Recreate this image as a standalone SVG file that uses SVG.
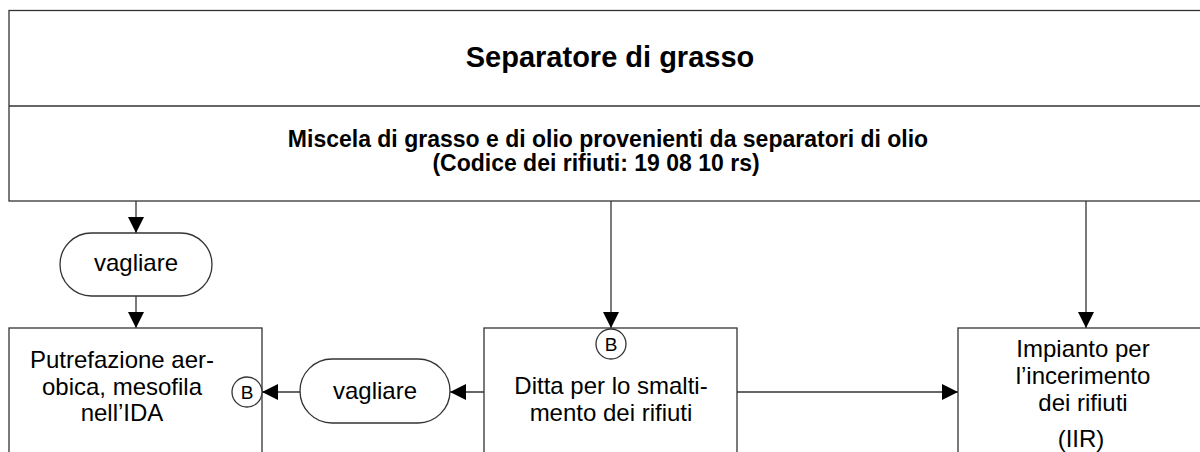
<svg xmlns="http://www.w3.org/2000/svg" width="1200" height="452" viewBox="0 0 1200 452">
<defs>
<style>
.box{fill:#fff;stroke:#333;stroke-width:1.3}
.ln{fill:none;stroke:#333;stroke-width:1.3}
.t{font-family:"Liberation Sans",Arial,sans-serif;font-size:24px;fill:#000;text-anchor:middle}
.h{font-family:"Liberation Sans",Arial,sans-serif;font-weight:bold;fill:#000;text-anchor:middle}
.c{font-family:"Liberation Sans",Arial,sans-serif;font-size:19px;fill:#000;text-anchor:middle}
</style>
<marker id="arr" markerUnits="userSpaceOnUse" markerWidth="17" markerHeight="16" refX="16" refY="8" orient="auto">
<path d="M0,0 L16,8 L0,16 Z" fill="#000"/>
</marker>
</defs>
<rect width="1200" height="452" fill="#fff"/>
<g id="header">
<rect class="box" x="9" y="10.5" width="1200" height="190.5"/>
<line class="ln" x1="9" y1="106" x2="1200" y2="106"/>
<text class="h" x="610" y="67" font-size="29">Separatore di grasso</text>
<text class="h" x="608" y="147" font-size="23">Miscela di grasso e di olio provenienti da separatori di olio</text>
<text class="h" x="596" y="171" font-size="23">(Codice dei rifiuti: 19 08 10 rs)</text>
</g>
<g id="connectors">
<line class="ln" x1="136" y1="201" x2="136" y2="233" marker-end="url(#arr)"/>
<line class="ln" x1="136" y1="296" x2="136" y2="328" marker-end="url(#arr)"/>
<line class="ln" x1="611" y1="201" x2="611" y2="328" marker-end="url(#arr)"/>
<line class="ln" x1="1086" y1="201" x2="1086" y2="328" marker-end="url(#arr)"/>
<line class="ln" x1="484" y1="392" x2="450" y2="392" marker-end="url(#arr)"/>
<line class="ln" x1="300" y1="392" x2="262" y2="392" marker-end="url(#arr)"/>
<line class="ln" x1="737" y1="392" x2="958" y2="392" marker-end="url(#arr)"/>
</g>
<g id="vagliare1">
<rect class="box" x="60" y="233" width="152" height="63" rx="31.5"/>
<text class="t" x="136" y="271">vagliare</text>
</g>
<g id="putrefazione">
<rect class="box" x="9" y="328" width="253" height="140"/>
<text class="t" x="122" y="368" font-size="25">Putrefazione aer-</text>
<text class="t" x="122" y="394.5" font-size="25">obica, mesofila</text>
<text class="t" x="122" y="421" font-size="25">nell’IDA</text>
<circle class="box" cx="247" cy="392" r="15"/>
<text class="c" x="247" y="399">B</text>
</g>
<g id="vagliare2">
<rect class="box" x="300" y="359" width="150" height="64" rx="32"/>
<text class="t" x="375" y="399">vagliare</text>
</g>
<g id="ditta">
<rect class="box" x="484" y="328" width="253" height="140"/>
<circle class="box" cx="611" cy="344" r="15"/>
<text class="c" x="611" y="351">B</text>
<text class="t" x="611" y="394">Ditta per lo smalti-</text>
<text class="t" x="611" y="421">mento dei rifiuti</text>
</g>
<g id="impianto">
<rect class="box" x="958" y="328" width="260" height="140"/>
<text class="t" x="1083" y="357">Impianto per</text>
<text class="t" x="1083" y="383.5">l’incerimento</text>
<text class="t" x="1083" y="410.5">dei rifiuti</text>
<text class="t" x="1081" y="447">(IIR)</text>
</g>
</svg>
